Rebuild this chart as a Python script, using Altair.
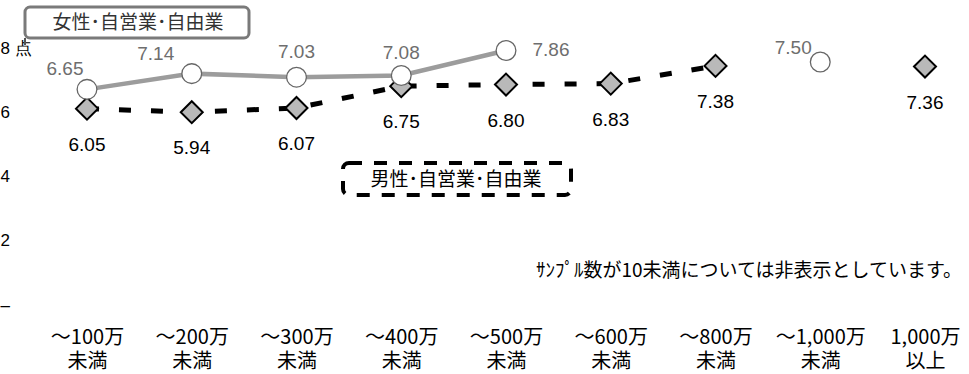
import altair as alt
import pandas as pd

# Income brackets (annual income, 万円)
categories = ["～100万 未満", "～200万 未満", "～300万 未満", "～400万 未満", "～500万 未満",
              "～600万 未満", "～800万 未満", "～1,000万 未満", "1,000万 以上"]

# Average score, self-employed / freelance (None = fewer than 10 samples)
female = [6.65, 7.14, 7.03, 7.08, 7.86, None, None, 7.50, None]
male = [6.05, 5.94, 6.07, 6.75, 6.80, 6.83, 7.38, None, 7.36]

# Label placement for the female series (pixel offsets from each point)
female_dx = [-22, -36, 0, 0, 45, 0, 0, -27, 0]
female_dy = [-20, -20, -25, -23, 0, 0, 0, -14, 0]

rows = []
for i, c in enumerate(categories):
    rows.append({"cat": c, "series": "女性", "value": female[i]})
    rows.append({"cat": c, "series": "男性", "value": male[i]})
df = pd.DataFrame(rows)

JP = "Noto Sans CJK JP"
LAT = "Liberation Sans"

x_enc = alt.X(
    "cat:N", sort=categories,
    scale=alt.Scale(type="point", range=[87, 925], padding=0),
    axis=alt.Axis(title=None, domain=False, ticks=False, tickSize=0, labelAngle=0,
                  labelExpr="split(datum.label, ' ')", labelFont=JP, labelFontSize=20,
                  labelColor="#000000", labelPadding=24, labelLineHeight=24.5,
                  labelBaseline="top", grid=False),
)
y_enc = alt.Y(
    "value:Q",
    scale=alt.Scale(domain=[0, 8], range=[303, 46], nice=False, zero=False),
    axis=alt.Axis(title=None, values=[0, 2, 4, 6, 8], domain=False, ticks=False, tickSize=0,
                  grid=False, labelAlign="left", labelPadding=0, labelOffset=2,
                  labelFont=LAT, labelFontSize=17, labelColor="#000000",
                  labelExpr="datum.value == 8 ? '8  点' : datum.value == 0 ? '–' : datum.label"),
)

base = alt.Chart(df).encode(x=x_enc, y=y_enc)
m = base.transform_filter("datum.series == '男性'")
f = base.transform_filter("datum.series == '女性'")

male_line = m.mark_line(stroke="#000000", strokeWidth=5, strokeDash=[12, 20],
                        invalid="break-paths-show-domains")
male_pts = m.transform_filter("isValid(datum.value)").mark_point(
    shape="diamond", size=484, filled=True, fill="#b9b9b9", stroke="#000000",
    strokeWidth=2, opacity=1)
female_line = f.mark_line(stroke="#9c9c9c", strokeWidth=4.5,
                          invalid="break-paths-show-domains")
female_pts = f.transform_filter("isValid(datum.value)").mark_point(
    shape="circle", size=390, filled=True, fill="#ffffff", stroke="#666666",
    strokeWidth=1.3, opacity=1)

male_lbl = m.transform_filter("isValid(datum.value)").mark_text(
    dy=36, font=LAT, fontSize=19, color="#000000").encode(
    text=alt.Text("value:Q", format=".2f"))

# One text layer per female point so each label keeps its own offset
female_lbls = []
for i, c in enumerate(categories):
    if female[i] is None:
        continue
    female_lbls.append(
        f.transform_filter(alt.datum.cat == c).mark_text(
            dx=female_dx[i], dy=female_dy[i], font=LAT, fontSize=19, color="#6e6e6e"
        ).encode(text=alt.Text("value:Q", format=".2f"))
    )

one = alt.Chart(pd.DataFrame({"k": [0]}))

female_box = one.mark_rect(fill="#ffffff", stroke="#7a7a7a", strokeWidth=3,
                           cornerRadius=5).encode(
    x=alt.value(25), x2=alt.value(249), y=alt.value(7), y2=alt.value(38))
female_stub = one.mark_rule(stroke="#555555", strokeWidth=2).encode(
    x=alt.value(25), y=alt.value(38), y2=alt.value(45))
female_txt = one.mark_text(text="女性･自営業･自由業", font=JP, fontSize=19,
                           color="#333333").encode(x=alt.value(138), y=alt.value(23))

male_box = one.mark_rect(fill="#ffffff", stroke="#000000", strokeWidth=4,
                         strokeDash=[13, 12], cornerRadius=6).encode(
    x=alt.value(343), x2=alt.value(571), y=alt.value(163), y2=alt.value(195))
male_txt = one.mark_text(text="男性･自営業･自由業", font=JP, fontSize=19,
                         color="#000000").encode(x=alt.value(456), y=alt.value(180))

note = one.mark_text(text="ｻﾝﾌﾟﾙ数が10未満については非表示としています。", font=JP,
                     fontSize=19, color="#000000").encode(x=alt.value(749), y=alt.value(271))

chart = alt.layer(
    male_line, male_pts, female_line, female_pts, male_lbl, *female_lbls,
    female_stub, female_box, female_txt, male_box, male_txt, note,
).properties(
    width=969, height=303,
    background="#ffffff",
    autosize=alt.AutoSizeParams(type="none"),
    padding={"left": 0, "top": 0, "right": 0, "bottom": 71},
).configure_view(strokeWidth=0).configure_axis(
    domain=False, ticks=False, grid=False
)

chart.save("out.html", embed_options={"renderer": "svg", "actions": False})
